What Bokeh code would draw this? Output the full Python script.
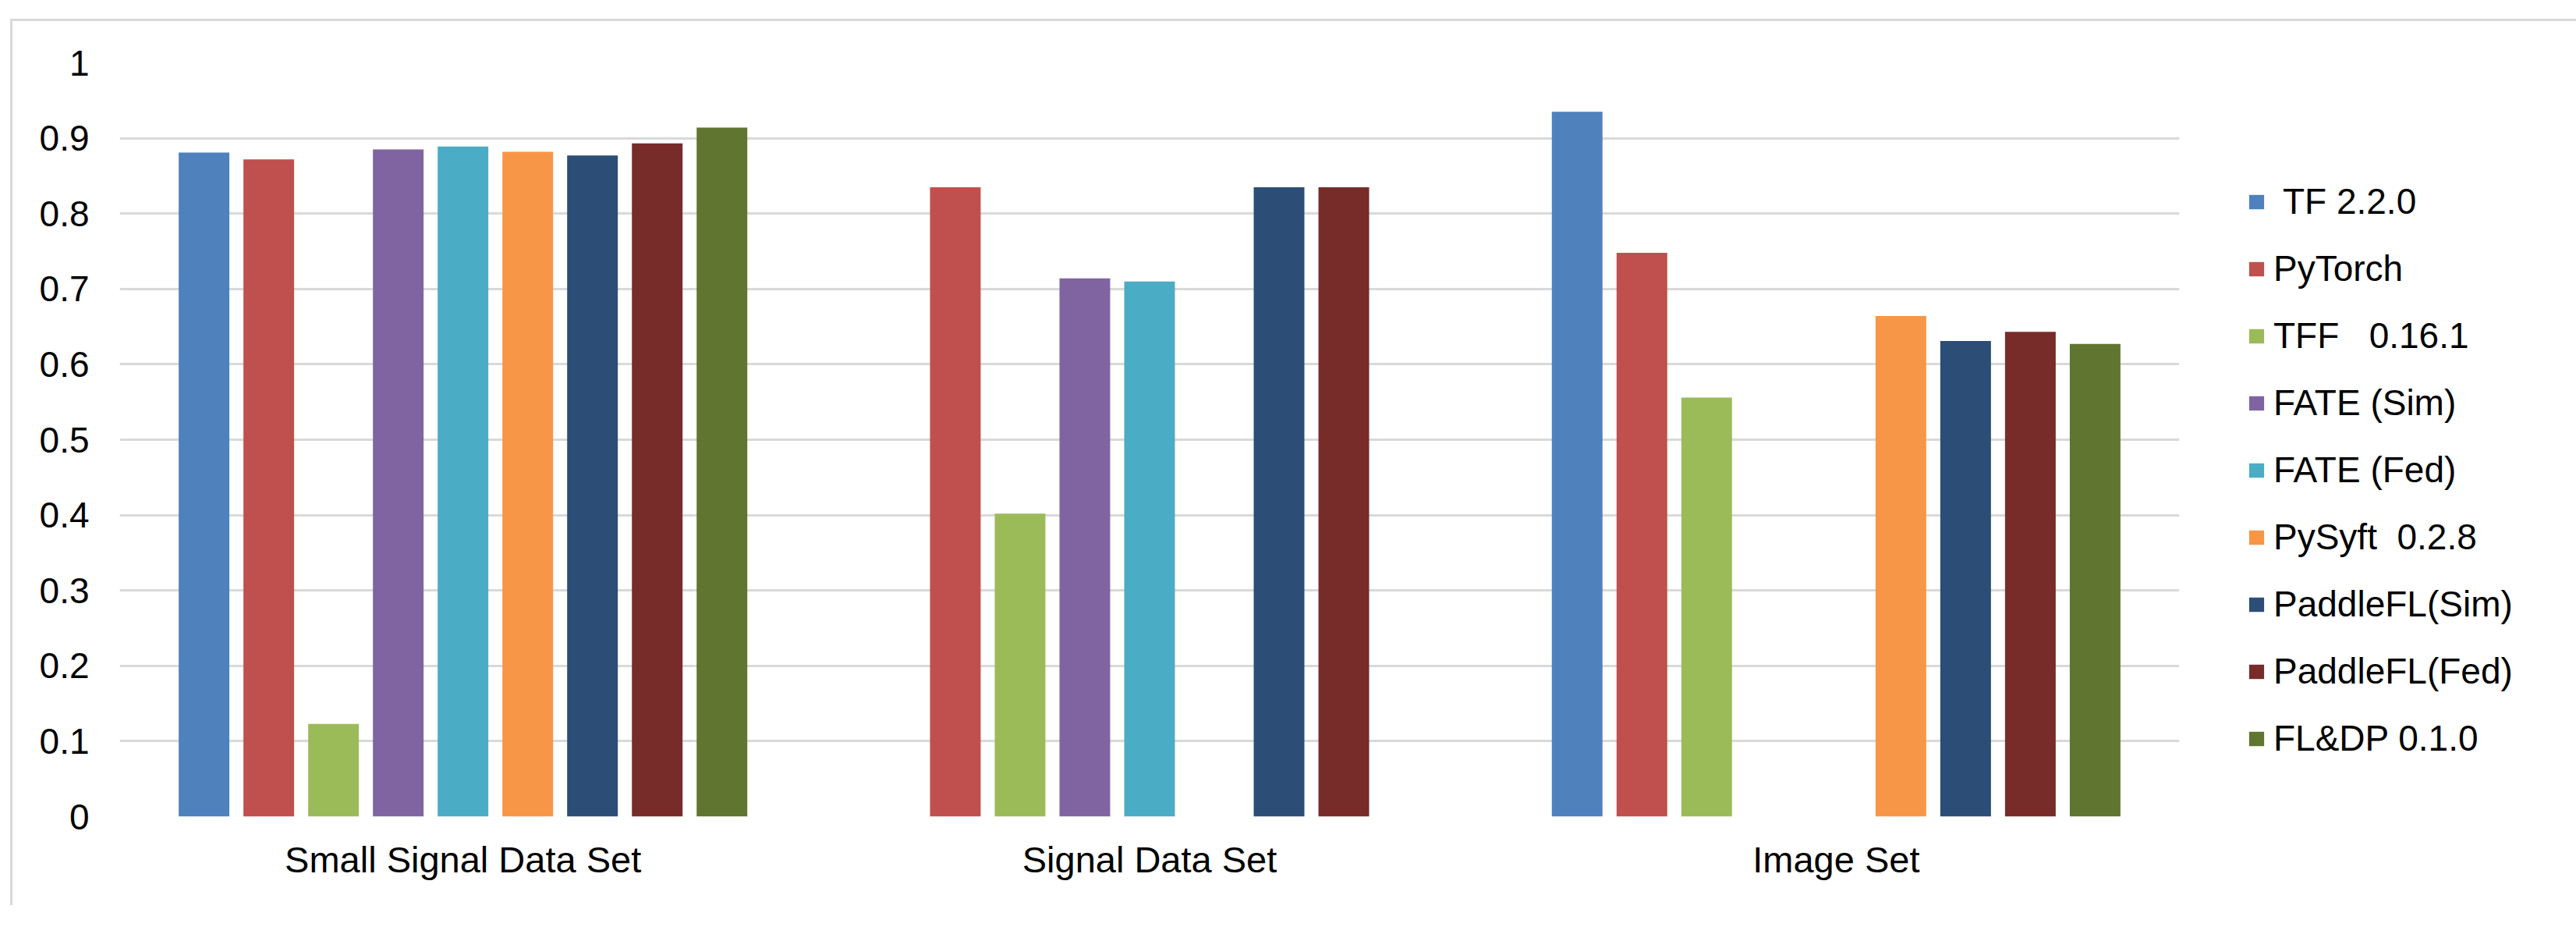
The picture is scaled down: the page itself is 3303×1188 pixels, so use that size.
from bokeh.plotting import figure
from bokeh.models import (ColumnDataSource, FactorRange, Legend, LegendItem, FixedTicker,
                          NumeralTickFormatter, Range1d)
from bokeh.transform import dodge
from bokeh.embed import file_html
from bokeh.resources import INLINE

NaN = float("nan")

categories = ["Small Signal Data Set", "Signal Data Set", "Image Set"]
series_names = [" TF 2.2.0", "PyTorch", "TFF   0.16.1", "FATE (Sim)", "FATE (Fed)",
                "PySyft  0.2.8", "PaddleFL(Sim)", "PaddleFL(Fed)", "FL&DP 0.1.0"]
tf_220 = [0.881, NaN, 0.935]
pytorch = [0.872, 0.835, 0.748]
tff_0161 = [0.123, 0.402, 0.556]
fate_sim = [0.885, 0.714, NaN]
fate_fed = [0.889, 0.710, NaN]
pysyft_028 = [0.882, NaN, 0.664]
paddlefl_sim = [0.877, 0.835, 0.631]
paddlefl_fed = [0.893, 0.835, 0.643]
fldp_010 = [0.914, NaN, 0.627]
y_ticks = [0, 0.1, 0.2, 0.3, 0.4, 0.5, 0.6, 0.7, 0.8, 0.9, 1.0]

colors = ["#4F81BD", "#C0504D", "#9BBB59", "#8064A2", "#4BACC6",
          "#F79646", "#2C4D75", "#772C2A", "#5F7530"]

series_values = [tf_220, pytorch, tff_0161, fate_sim, fate_fed,
                 pysyft_028, paddlefl_sim, paddlefl_fed, fldp_010]
keys = ["s%d" % i for i in range(len(series_values))]
data = {"cat": categories}
for k, vals in zip(keys, series_values):
    data[k] = vals
source = ColumnDataSource(data)

FONT = "Liberation Sans"

p = figure(x_range=FactorRange(*categories), y_range=Range1d(0, 1),
           frame_width=2641, frame_height=966,
           min_border_left=137, min_border_top=53, min_border_bottom=114, min_border_right=490,
           output_backend="svg", toolbar_location=None,
           background_fill_color="white", border_fill_color="white")
p.outline_line_color = None
p.margin = (24, 0, 0, 13)
p.styles = {"border-top": "3px solid #d9d9d9", "border-left": "3px solid #d9d9d9"}

slot = 0.0943
bar_w = 0.0738
renderers = []
n = len(keys)
for i, (k, c) in enumerate(zip(keys, colors)):
    off = (i - (n - 1) / 2) * slot
    r = p.vbar(x=dodge("cat", off, range=p.x_range), top=k, width=bar_w,
               source=source, fill_color=c, line_color=None)
    renderers.append(r)

# axes
p.yaxis.ticker = FixedTicker(ticks=y_ticks)
p.yaxis.formatter = NumeralTickFormatter(format="0.[0]")
p.yaxis.axis_line_color = None
p.yaxis.major_tick_line_color = None
p.yaxis.minor_tick_line_color = None
p.yaxis.major_tick_out = 0
p.yaxis.major_tick_in = 0
p.yaxis.major_label_standoff = 39
p.yaxis.major_label_text_font = FONT
p.yaxis.major_label_text_font_size = "46px"
p.yaxis.major_label_text_color = "#000000"

p.xaxis.axis_line_color = None
p.xaxis.major_tick_line_color = None
p.xaxis.minor_tick_line_color = None
p.xaxis.major_tick_out = 0
p.xaxis.major_tick_in = 0
p.xaxis.major_label_standoff = 28
p.xaxis.major_label_text_font = FONT
p.xaxis.major_label_text_font_size = "47px"
p.xaxis.major_label_text_color = "#000000"

p.xgrid.grid_line_color = None
p.ygrid.ticker = FixedTicker(ticks=y_ticks)
p.ygrid.grid_line_color = "#d9d9d9"
p.ygrid.grid_line_width = 3

legend = Legend(items=[LegendItem(label=nm, renderers=[r]) for nm, r in zip(series_names, renderers)],
                location=(87, 73), orientation="vertical")
legend.label_text_font = FONT
legend.label_text_font_size = "46px"
legend.label_text_color = "#000000"
legend.glyph_width = 24
legend.glyph_height = 23
legend.label_standoff = 10
legend.spacing = 32
legend.padding = 0
legend.margin = 0
legend.border_line_color = None
legend.background_fill_alpha = 0
p.add_layout(legend, "right")

open("out.html", "w").write(file_html(p, INLINE))
